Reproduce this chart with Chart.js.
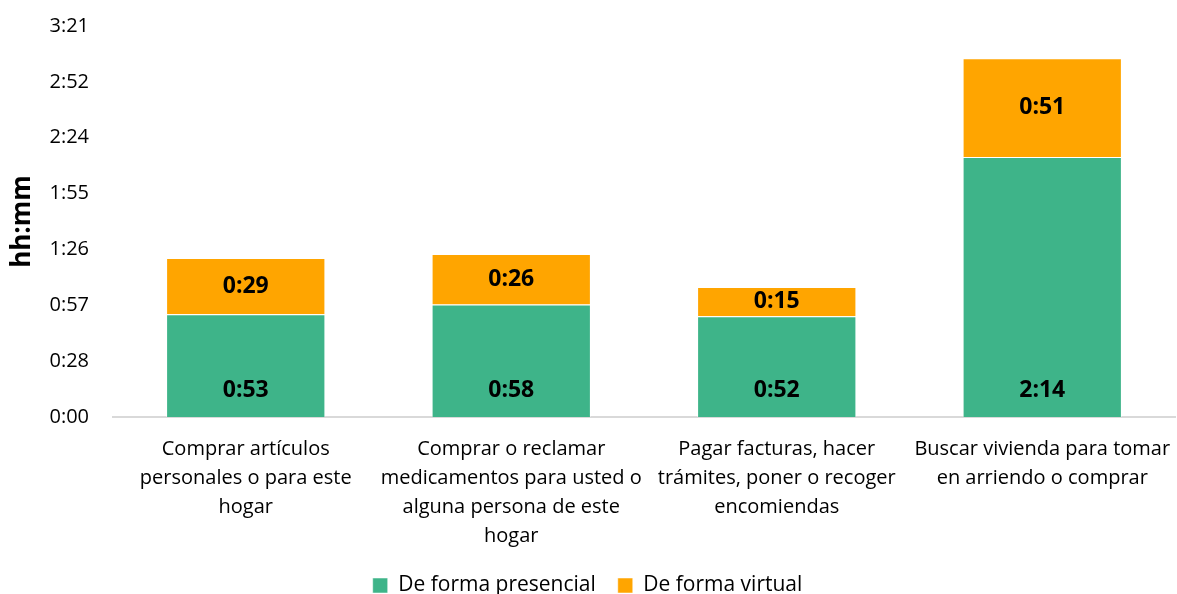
<!DOCTYPE html>
<html>
<head>
<meta charset="utf-8">
<script src="https://cdn.jsdelivr.net/npm/chart.js@4.4.1/dist/chart.umd.min.js"></script>
<style>
  html, body { margin: 0; padding: 0; background: #fff; }
  #caja { width: 1177px; height: 594px; }
</style>
</head>
<body>
<div id="caja"><canvas id="grafico"></canvas></div>
<script>
// minutos
const categorias = [
  ["Comprar artículos", "personales o para este", "hogar"],
  ["Comprar o reclamar", "medicamentos para usted o", "alguna persona de este", "hogar"],
  ["Pagar facturas, hacer", "trámites, poner o recoger", "encomiendas"],
  ["Buscar vivienda para tomar", "en arriendo o comprar"]
];
const presencial = [53, 58, 52, 134];
const virtual = [29, 26, 15, 51];
const pasoEje = 28.8; // 0:28:48 como en Excel
const maxEje = 201.6;

const hhmm = (v) => {
  let m = Math.floor(v + 1e-6);
  let h = Math.floor(m / 60);
  let r = m % 60;
  return h + ":" + (r < 10 ? "0" : "") + r;
};

const fuente = "'Open Sans', 'Noto Sans', sans-serif";

const etiquetas = {
  id: "etiquetas",
  afterDatasetsDraw(chart) {
    const ctx = chart.ctx;
    ctx.save();
    ctx.font = "bold 23px " + fuente;
    ctx.fillStyle = "#000";
    ctx.textAlign = "center";
    ctx.textBaseline = "middle";
    chart.data.datasets.forEach((ds, i) => {
      chart.getDatasetMeta(i).data.forEach((bar, j) => {
        let y = i == 0 ? bar.base - 27 : (bar.y + bar.base) / 2;
        ctx.fillText(hhmm(ds.data[j]), bar.x, y);
      });
    });
    ctx.restore();
  }
};

new Chart(document.getElementById("grafico"), {
  type: "bar",
  data: {
    labels: categorias,
    datasets: [
      {
        label: "De forma presencial",
        data: presencial,
        backgroundColor: "#3EB489",
        borderColor: "rgba(255,255,255,0.5)",
        borderWidth: 1,
      },
      {
        label: "De forma virtual",
        data: virtual,
        backgroundColor: "#FFA500",
        borderColor: "rgba(255,255,255,0.5)",
        borderWidth: 1,
      },
    ],
  },
  options: {
    responsive: true,
    maintainAspectRatio: false,
    animation: false,
    layout: { padding: { top: 0, right: 2, left: 0, bottom: -12 } },
    datasets: { bar: { barPercentage: 0.6, categoryPercentage: 1 } },
    scales: {
      x: {
        stacked: true,
        grid: { display: false },
        border: { color: "#d9d9d9", width: 2 },
        ticks: {
          color: "#000",
          font: { family: fuente, size: 20, lineHeight: 1.45 },
          padding: 10,
          maxRotation: 0,
          autoSkip: false,
        },
        afterFit: (s) => {
          s.height = 136;
          s.paddingLeft = 0;
          s.paddingRight = 0;
        },
      },
      y: {
        stacked: true,
        min: 0,
        max: maxEje,
        grid: { display: false, drawTicks: false },
        border: { display: false },
        ticks: {
          stepSize: pasoEje,
          color: "#000",
          font: { family: fuente, size: 20, lineHeight: 0.2 },
          padding: 24,
          callback: (v) => hhmm(v),
        },
        title: {
          display: true,
          text: "hh:mm",
          color: "#000",
          font: { family: fuente, size: 26, weight: "bold" },
          padding: { top: 7, bottom: 0 },
        },
        afterFit: (s) => { s.width = 113; },
      },
    },
    plugins: {
      legend: {
        position: "bottom",
        labels: {
          color: "#000",
          font: { family: fuente, size: 21 },
          boxWidth: 15,
          boxHeight: 15,
          padding: 22,
        },
      },
      tooltip: { enabled: false },
    },
  },
  plugins: [etiquetas],
});
</script>
</body>
</html>
